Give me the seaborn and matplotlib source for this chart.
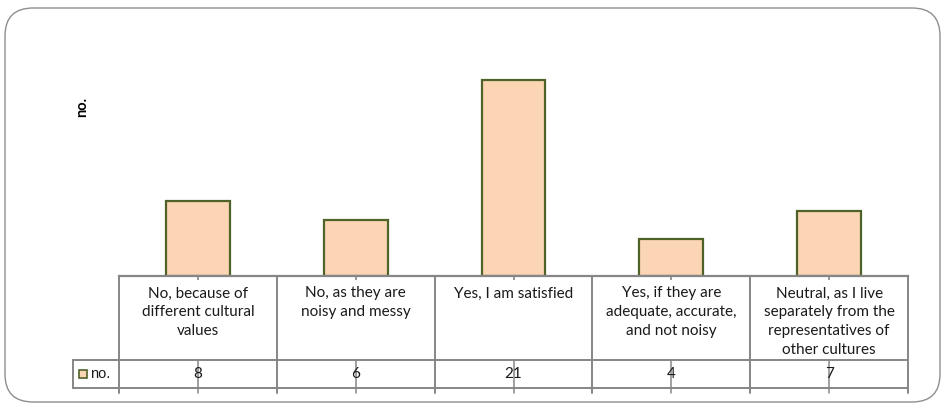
import matplotlib
matplotlib.use("Agg")
import matplotlib.pyplot as plt
import matplotlib.transforms as mtransforms
from matplotlib.patches import FancyBboxPatch, Rectangle
from matplotlib.lines import Line2D
import seaborn as sns
import pandas as pd

# Survey answers and counts
categories = [
    "No, because of\ndifferent cultural\nvalues",
    "No, as they are\nnoisy and messy",
    "Yes, I am satisfied",
    "Yes, if they are\nadequate, accurate,\nand not noisy",
    "Neutral, as I live\nseparately from the\nrepresentatives of\nother cultures",
]
counts = [8, 6, 21, 4, 7]
series_name = "no."

sns.set_theme(style="white")
plt.rcParams["font.family"] = ["Lato", "DejaVu Sans"]

W, H = 944, 403
fig = plt.figure(figsize=(W / 100, H / 100), dpi=100)

FILL = "#FCD5B5"
EDGE = "#4F6228"
GRID = "#868686"


def fx(px):
    return px / W


def fy(py):
    return (H - py) / H


ax_left, ax_right, ax_bottom, ax_top = 119, 908, 276, 43
ax = fig.add_axes([fx(ax_left), fy(ax_bottom), fx(ax_right - ax_left),
                   (ax_bottom - ax_top) / H])

df = pd.DataFrame({"answer": categories, "count": counts})
sns.barplot(data=df, x="answer", y="count", ax=ax, width=0.405,
            color=FILL, edgecolor=EDGE, linewidth=1.6, saturation=1)

ax.set_xlim(-0.5, len(categories) - 0.5)
ax.set_ylim(0, 25)
ax.set_xlabel("")
ax.set_ylabel("")
ax.set_yticks([])
ax.set_xticks(range(len(categories)))
ax.set_xticklabels([])
ax.tick_params(axis="x", direction="inout", length=6, width=1.2, color=GRID, bottom=True)
for s in ("left", "right", "top"):
    ax.spines[s].set_visible(False)
ax.spines["bottom"].set_color(GRID)
ax.spines["bottom"].set_linewidth(1.6)

# Data table under the plot
bt = mtransforms.blended_transform_factory(ax.transData, fig.transFigure)
row1, row2, row_end = 360, 388, 393
legend_left = 73
x_right = ax.get_position().x1

for yy in (row1, row2):
    fig.add_artist(Line2D([fx(legend_left), x_right], [fy(yy), fy(yy)],
                          color=GRID, lw=1.4, transform=fig.transFigure))
fig.add_artist(Line2D([fx(legend_left), fx(legend_left)], [fy(row1), fy(row2)],
                      color=GRID, lw=1.4, transform=fig.transFigure))

for i in range(len(categories) + 1):
    xb = i - 0.5
    ax.add_line(Line2D([xb, xb], [fy(ax_bottom), fy(row_end)], color=GRID,
                       lw=1.4, transform=bt, clip_on=False))

for i, (cat, val) in enumerate(zip(categories, counts)):
    ax.add_line(Line2D([i, i], [fy(row1 + 1), fy(row_end)], color=GRID,
                       lw=1.1, transform=bt, clip_on=False))
    ax.text(i, fy(286.5), cat, transform=bt, ha="center", va="top",
            fontsize=11, color="#1A1A1A", linespacing=1.45)
    ax.text(i, fy(374.5), str(val), transform=bt, ha="center", va="center",
            fontsize=11, color="#1A1A1A")

# Legend key in the table
fig.add_artist(Rectangle((fx(79), fy(378)), fx(8), 8 / H, facecolor=FILL,
                         edgecolor=EDGE, lw=1.2, transform=fig.transFigure))
fig.text(fx(90), fy(374.5), series_name, ha="left", va="center",
         fontsize=10.5, color="#1A1A1A", family=["Liberation Sans", "DejaVu Sans"])

# Axis title
fig.text(fx(82), fy(107), series_name, rotation=90, ha="center", va="center",
         fontsize=10.5, fontweight="bold", color="#000000")

# Rounded chart frame
frame = FancyBboxPatch((5 / 100, 1 / 100), 935 / 100, 394 / 100,
                       boxstyle="round,pad=0,rounding_size=0.28",
                       facecolor="none", edgecolor="#8E8E8E", lw=1.0,
                       transform=fig.dpi_scale_trans)
fig.add_artist(frame)

fig.savefig("out.png", dpi=100, facecolor="white")
